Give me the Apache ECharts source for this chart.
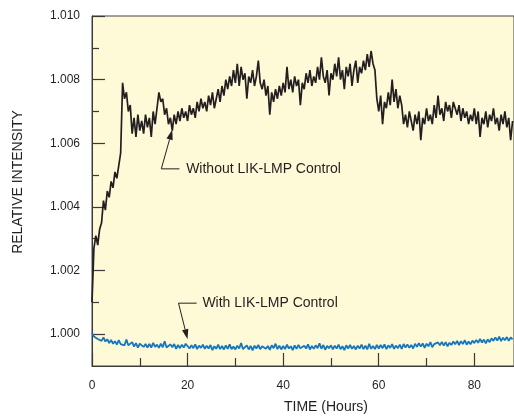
<!DOCTYPE html>
<html>
<head>
<meta charset="utf-8">
<script src="https://cdn.jsdelivr.net/npm/echarts@6/dist/echarts.min.js"></script>
<style>
  html, body { margin: 0; padding: 0; background: #fff; }
  #chart { width: 514px; height: 417px; }
</style>
</head>
<body>
<div id="chart"></div>
<script>
// samples every 0.4 h
const step = 0.4

// relative intensity, without LIK-LMP control (t = 0 .. 88 h)
const withoutCtrl = [
  1.0010, 1.0027, 1.0031, 1.0028, 1.0033, 1.0035, 1.0042, 1.0039, 1.0045, 1.0043,
  1.0048, 1.0046, 1.0051, 1.0049, 1.0053, 1.0057, 1.0079, 1.0074, 1.0076, 1.0070,
  1.0072, 1.0063, 1.0068, 1.0062, 1.0069, 1.0064, 1.0067, 1.0063, 1.0069, 1.0065,
  1.0068, 1.0062, 1.0070, 1.0066, 1.0071, 1.0076, 1.0073, 1.0074, 1.0069, 1.0071,
  1.0066, 1.0068, 1.0064, 1.0069, 1.0066, 1.0070, 1.0067, 1.0071, 1.0068, 1.0070,
  1.0067, 1.0072, 1.0069, 1.0071, 1.0068, 1.0073, 1.0070, 1.0074, 1.0071, 1.0073,
  1.0070, 1.0075, 1.0072, 1.0076, 1.0071, 1.0074, 1.0077, 1.0073, 1.0078, 1.0075,
  1.0080, 1.0077, 1.0081, 1.0078, 1.0083, 1.0079, 1.0085, 1.0078, 1.0084, 1.0080,
  1.0082, 1.0074, 1.0081, 1.0079, 1.0083, 1.0078, 1.0081, 1.0086, 1.0079, 1.0077,
  1.0080, 1.0075, 1.0078, 1.0069, 1.0076, 1.0073, 1.0077, 1.0074, 1.0078, 1.0075,
  1.0079, 1.0076, 1.0084, 1.0077, 1.0080, 1.0076, 1.0081, 1.0078, 1.0080, 1.0072,
  1.0079, 1.0077, 1.0082, 1.0079, 1.0083, 1.0078, 1.0081, 1.0079, 1.0084, 1.0080,
  1.0087, 1.0081, 1.0079, 1.0083, 1.0075, 1.0082, 1.0080, 1.0085, 1.0081, 1.0087,
  1.0080, 1.0083, 1.0077, 1.0084, 1.0081, 1.0085, 1.0078, 1.0083, 1.0086, 1.0079,
  1.0084, 1.0082, 1.0086, 1.0083, 1.0088, 1.0084, 1.0089, 1.0085, 1.0083, 1.0074,
  1.0070, 1.0075, 1.0066, 1.0073, 1.0071, 1.0076, 1.0072, 1.0080, 1.0073, 1.0077,
  1.0071, 1.0075, 1.0072, 1.0066, 1.0069, 1.0065, 1.0070, 1.0067, 1.0064, 1.0069,
  1.0066, 1.0070, 1.0061, 1.0068, 1.0066, 1.0071, 1.0067, 1.0069, 1.0066, 1.0072,
  1.0068, 1.0075, 1.0069, 1.0071, 1.0067, 1.0073, 1.0070, 1.0072, 1.0068, 1.0073,
  1.0071, 1.0069, 1.0072, 1.0067, 1.0071, 1.0068, 1.0070, 1.0066, 1.0069, 1.0067,
  1.0071, 1.0066, 1.0070, 1.0062, 1.0068, 1.0066, 1.0070, 1.0065, 1.0069, 1.0067,
  1.0071, 1.0066, 1.0068, 1.0064, 1.0069, 1.0066, 1.0070, 1.0065, 1.0068, 1.0061,
  1.0067
]

// relative intensity, with LIK-LMP control
const withCtrl = [
  1.00004, 0.99993, 0.99999, 0.99985, 0.99990, 0.99979, 0.99990, 0.99977, 0.99984, 0.99972,
  0.99982, 0.99970, 0.99978, 0.99967, 0.99981, 0.99969, 0.99974, 0.99965, 0.99983, 0.99965,
  0.99964, 0.99975, 0.99961, 0.99972, 0.99958, 0.99970, 0.99972, 0.99960, 0.99969, 0.99958,
  0.99969, 0.99958, 0.99973, 0.99960, 0.99967, 0.99957, 0.99970, 0.99959, 0.99978, 0.99958,
  0.99957, 0.99968, 0.99959, 0.99969, 0.99954, 0.99966, 0.99956, 0.99967, 0.99958, 0.99970,
  0.99973, 0.99955, 0.99965, 0.99956, 0.99968, 0.99953, 0.99964, 0.99957, 0.99967, 0.99954,
  0.99964, 0.99955, 0.99966, 0.99950, 0.99962, 0.99954, 0.99967, 0.99953, 0.99963, 0.99952,
  0.99965, 0.99954, 0.99968, 0.99953, 0.99961, 0.99952, 0.99964, 0.99955, 0.99972, 0.99953,
  0.99956, 0.99965, 0.99952, 0.99963, 0.99949, 0.99964, 0.99955, 0.99966, 0.99953, 0.99962,
  0.99966, 0.99954, 0.99963, 0.99951, 0.99965, 0.99956, 0.99970, 0.99953, 0.99964, 0.99952,
  0.99963, 0.99953, 0.99967, 0.99955, 0.99962, 0.99950, 0.99965, 0.99954, 0.99966, 0.99956,
  0.99953, 0.99964, 0.99955, 0.99968, 0.99952, 0.99963, 0.99954, 0.99965, 0.99956, 0.99971,
  0.99954, 0.99966, 0.99951, 0.99963, 0.99956, 0.99965, 0.99952, 0.99964, 0.99955, 0.99967,
  0.99953, 0.99962, 0.99950, 0.99965, 0.99955, 0.99966, 0.99954, 0.99963, 0.99952, 0.99964,
  0.99955, 0.99967, 0.99953, 0.99964, 0.99952, 0.99970, 0.99954, 0.99963, 0.99953, 0.99966,
  0.99955, 0.99966, 0.99956, 0.99968, 0.99953, 0.99965, 0.99957, 0.99969, 0.99954, 0.99964,
  0.99956, 0.99967, 0.99954, 0.99969, 0.99958, 0.99968, 0.99957, 0.99966, 0.99955, 0.99970,
  0.99960, 0.99972, 0.99961, 0.99971, 0.99957, 0.99970, 0.99962, 0.99975, 0.99959, 0.99969,
  0.99963, 0.99974, 0.99965, 0.99976, 0.99964, 0.99975, 0.99962, 0.99973, 0.99966, 0.99977,
  0.99968, 0.99979, 0.99966, 0.99978, 0.99969, 0.99981, 0.99967, 0.99977, 0.99968, 0.99980,
  0.99972, 0.99982, 0.99973, 0.99985, 0.99974, 0.99983, 0.99971, 0.99984, 0.99975, 0.99987,
  0.99979, 0.99990, 0.99980, 0.99992, 0.99978, 0.99989, 0.99981, 0.99991, 0.99979, 0.99990,
  0.99984
]

const yMajor = [1.000, 1.002, 1.004, 1.006, 1.008, 1.010]
const yMinor = [1.001, 1.003, 1.005, 1.007, 1.009]
const xMajor = [0, 20, 40, 60, 80]
const xMinor = [10, 30, 50, 70]

const ink = '#231f20'
const axisInk = '#3a3a3a'
const font = '"Liberation Sans", Arial, Helvetica, sans-serif'

const toPairs = arr => arr.map((v, i) => [+(i * step).toFixed(1), v])

const chart = echarts.init(document.getElementById('chart'))

const xBase = {
  type: 'value', min: 0, max: 88.3, position: 'bottom',
  splitLine: { show: false }
}
const yBase = {
  type: 'value', min: 0.999, max: 1.010, position: 'left',
  splitLine: { show: false }
}

chart.setOption({
  animation: false,
  grid: {
    left: 92, top: 16, right: -2, bottom: 51,
    show: true,
    backgroundColor: '#fef9d7',
    borderColor: '#444',
    borderWidth: 1
  },
  xAxis: [
    Object.assign({}, xBase, {
      axisLine: { show: true, lineStyle: { color: axisInk, width: 1 } },
      axisTick: { inside: true, length: 13, customValues: xMajor, lineStyle: { color: axisInk, width: 1.2 } },
      axisLabel: { customValues: xMajor, margin: 14, fontSize: 12, color: ink, fontFamily: font }
    }),
    Object.assign({}, xBase, {
      axisLine: { show: false },
      axisTick: { inside: true, length: 8, customValues: xMinor, lineStyle: { color: axisInk, width: 1.2 } },
      axisLabel: { show: false }
    })
  ],
  yAxis: [
    Object.assign({}, yBase, {
      axisLine: { show: true, lineStyle: { color: axisInk, width: 1 } },
      axisTick: { inside: true, length: 13, customValues: yMajor, lineStyle: { color: axisInk, width: 1.2 } },
      axisLabel: {
        customValues: yMajor, margin: 12, fontSize: 12, color: ink, fontFamily: font,
        formatter: v => v.toFixed(3)
      }
    }),
    Object.assign({}, yBase, {
      axisLine: { show: false },
      axisTick: { inside: true, length: 7, customValues: yMinor, lineStyle: { color: axisInk, width: 1.2 } },
      axisLabel: { show: false }
    })
  ],
  series: [
    {
      name: 'With LIK-LMP Control',
      type: 'line',
      data: toPairs(withCtrl),
      showSymbol: false,
      lineStyle: { color: '#1577bf', width: 1.8 },
      z: 2
    },
    {
      name: 'Without LIK-LMP Control',
      type: 'line',
      data: toPairs(withoutCtrl),
      showSymbol: false,
      lineStyle: { color: ink, width: 1.7 },
      z: 3
    }
  ]
})

// leader lines + labels, placed in data coords
const notes = [
  { tip: [16.8, 1.006425], corner: [14.5, 1.005196], end: 18.3, textX: 19.7, text: 'Without LIK-LMP Control' },
  { tip: [20.0, 0.999841], corner: [18.1, 1.000975], end: 21.9, textX: 23.1, text: 'With LIK-LMP Control' }
]
const px = p => chart.convertToPixel({ gridIndex: 0 }, p)

const graphics = []
notes.forEach(n => {
  const t = px(n.tip), c = px(n.corner)
  const e = px([n.end, n.corner[1]])
  const tx = px([n.textX, n.corner[1]])
  const ang = Math.atan2(t[1] - c[1], t[0] - c[0])
  const len = 10, half = 3.2
  const bx = t[0] - len * Math.cos(ang), by = t[1] - len * Math.sin(ang)
  const nx = -Math.sin(ang) * half, ny = Math.cos(ang) * half
  graphics.push({
    type: 'polyline', silent: true,
    shape: { points: [e, c, [bx, by]] },
    style: { stroke: ink, lineWidth: 1, fill: null }
  })
  graphics.push({
    type: 'polygon', silent: true,
    shape: { points: [t, [bx + nx, by + ny], [bx - nx, by - ny]] },
    style: { fill: ink }
  })
  graphics.push({
    type: 'text', silent: true, x: tx[0], y: tx[1],
    style: { text: n.text, fill: ink, font: '14px ' + font, textAlign: 'left', textVerticalAlign: 'middle' }
  })
})

// axis titles
graphics.push({
  type: 'text', silent: true, x: 18, y: 182, rotation: Math.PI / 2,
  style: { text: 'RELATIVE INTENSITY', fill: ink, font: '14px ' + font, textAlign: 'center', textVerticalAlign: 'middle' }
})
graphics.push({
  type: 'text', silent: true, x: 326, y: 407,
  style: { text: 'TIME (Hours)', fill: ink, font: '14px ' + font, textAlign: 'center', textVerticalAlign: 'middle' }
})

chart.setOption({ graphic: graphics })
</script>
</body>
</html>
